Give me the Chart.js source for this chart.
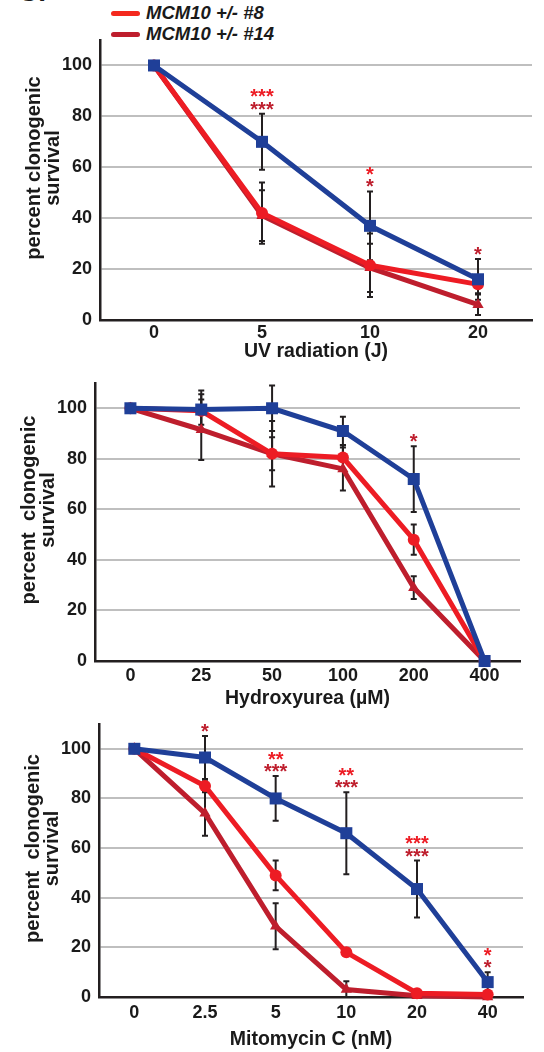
<!DOCTYPE html>
<html>
<head>
<meta charset="utf-8">
<script src="https://cdn.jsdelivr.net/npm/chart.js@4.4.1/dist/chart.umd.min.js"></script>
<style>
  html, body { margin: 0; padding: 0; background: #fff; }
  body { width: 544px; height: 1052px; position: relative; overflow: hidden; font-family: 'Liberation Sans', Arial, sans-serif; }
  canvas { position: absolute; left: 0; }
  .letter { position: absolute; left: 18px; top: -22px; font: bold 28px 'Liberation Sans', Arial, sans-serif; line-height: 28px; color: #1a1a1a; }
  .key { position: absolute; left: 111px; height: 22px; display: flex; align-items: center; font: italic bold 18.5px 'Liberation Sans', Arial, sans-serif; color: #1a1a1a; white-space: pre; }
  .key span { display: inline-block; width: 29px; height: 5px; border-radius: 3px; margin-right: 6px; }
</style>
</head>
<body>
<div class="letter">C.</div>
<div class="key" style="top:2px"><span style="background:#f4291e"></span>MCM10 +/- #8</div>
<div class="key" style="top:23px"><span style="background:#be1e2d"></span>MCM10 +/- #14</div>
<canvas id="uv" width="544" height="370" style="top:0"></canvas>
<canvas id="hu" width="544" height="355" style="top:360px"></canvas>
<canvas id="mmc" width="544" height="352" style="top:700px"></canvas>
<script>
/* clonogenic survival, three treatments */
const BLUE = '#1f3f98', RED = '#ed1c24', DARK = '#be1e2d';
const GRID = '#bfbfbf', AXIS = '#231f20', INK = '#1a1a1a';
const FONT = "'Liberation Sans', Arial, sans-serif";

// UV radiation (J)
const uvDoses = ['0', '5', '10', '20'];
const uvCtrl = [100, 70, 37, 16];
const uvCtrlErr = [0, 11, 13.5, 8];
const uv8 = [100, 42, 21.5, 14];
const uv8Err = [0, 12, 12.5, 3.5];
const uv14 = [100, 41, 20.5, 6];
const uv14Err = [0, 10, 9.5, 4];
const uvStars8 = ['', '***', '*', ''];
const uvStars14 = ['', '***', '*', '*'];

// Hydroxyurea (uM)
const huDoses = ['0', '25', '50', '100', '200', '400'];
const huCtrl = [100, 99.5, 100, 91, 72, 0];
const huCtrlErr = [0, 6, 9, 5.6, 13, 0];
const hu8 = [100, 99, 82, 80.5, 48, 0];
const hu8Err = [0, 8, 13, 5, 6, 0];
const hu14 = [100, 91.5, 82, 76, 29, 0];
const hu14Err = [0, 12, 6.5, 8.5, 4.5, 0];
const huStars8 = ['', '', '', '', '', ''];
const huStars14 = ['', '', '', '', '*', ''];

// Mitomycin C (nM)
const mmcDoses = ['0', '2.5', '5', '10', '20', '40'];
const mmcCtrl = [100, 96.5, 80, 66, 43.5, 6];
const mmcCtrlErr = [0, 8.7, 9, 16.5, 11.5, 4];
const mmc8 = [100, 85, 49, 18, 1.5, 1];
const mmc8Err = [0, 2.5, 6, 1.5, 0.5, 0.5];
const mmc14 = [100, 74, 28.5, 3, 0.5, 0];
const mmc14Err = [0, 9, 9.3, 3.3, 0, 0];
const mmcStars8 = ['', '', '**', '**', '***', '*'];
const mmcStars14 = ['', '*', '***', '***', '***', '*'];

const errorBars = {
  id: 'errorBars',
  beforeDatasetsDraw(chart) {
    const { ctx, scales: { x, y } } = chart;
    ctx.save();
    ctx.strokeStyle = AXIS;
    ctx.lineWidth = 2;
    chart.data.datasets.forEach(ds => {
      ds.errors.forEach((e, i) => {
        if (!e) return;
        const px = x.getPixelForValue(i);
        const top = y.getPixelForValue(ds.data[i] + e);
        const bot = y.getPixelForValue(Math.max(ds.data[i] - e, 0));
        ctx.beginPath();
        ctx.moveTo(px, top); ctx.lineTo(px, bot);
        ctx.moveTo(px - 3, top); ctx.lineTo(px + 3, top);
        ctx.moveTo(px - 3, bot); ctx.lineTo(px + 3, bot);
        ctx.stroke();
      });
    });
    ctx.restore();
  }
};

function starMarks(a, b) {
  return {
    id: 'stars',
    afterDatasetsDraw(chart) {
      const { ctx, scales: { x, y } } = chart;
      ctx.save();
      ctx.font = 'bold 20px ' + FONT;
      ctx.textAlign = 'center';
      ctx.textBaseline = 'alphabetic';
      chart.data.labels.forEach((_, i) => {
        if (!a[i] && !b[i]) return;
        const hi = Math.max(...chart.data.datasets.map(ds => ds.data[i] + (ds.errors[i] || 0)));
        const px = x.getPixelForValue(i);
        let cy = y.getPixelForValue(hi) - 9;
        if (b[i]) { ctx.fillStyle = DARK; ctx.fillText(b[i], px, cy + 11); cy -= 12.5; }
        if (a[i]) { ctx.fillStyle = RED; ctx.fillText(a[i], px, cy + 11); }
      });
      ctx.restore();
    }
  };
}

function yTitle(lines) {
  return {
    id: 'yTitle',
    afterDraw(chart) {
      const { ctx, chartArea } = chart;
      const cy = (chartArea.top + chartArea.bottom) / 2 - 12;
      ctx.save();
      ctx.translate(chartArea.left - 66, cy);
      ctx.rotate(-Math.PI / 2);
      ctx.font = 'bold 20px ' + FONT;
      ctx.fillStyle = INK;
      ctx.textAlign = 'center';
      ctx.textBaseline = 'middle';
      lines.forEach((t, i) => ctx.fillText(t, 0, i * 19.5));
      ctx.restore();
    }
  };
}

function panel(id, p) {
  const sets = [
    { label: 'MCM10 +/+', data: p.ctrl, errors: p.ctrlErr, borderColor: BLUE, backgroundColor: BLUE, pointStyle: 'rect', pointRadius: 8.5 },
    { label: 'MCM10 +/- #8', data: p.h8, errors: p.h8Err, borderColor: RED, backgroundColor: RED, pointStyle: 'circle', pointRadius: 6 },
    { label: 'MCM10 +/- #14', data: p.h14, errors: p.h14Err, borderColor: DARK, backgroundColor: DARK, pointStyle: 'triangle', pointRadius: 6.5 }
  ].map(ds => Object.assign(ds, { borderWidth: 5, pointBorderWidth: 0, tension: 0, clip: false }));

  return new Chart(document.getElementById(id), {
    type: 'line',
    data: { labels: p.labels, datasets: sets },
    options: {
      responsive: false,
      animation: false,
      devicePixelRatio: 1,
      events: [],
      layout: { padding: { top: p.top, right: p.right, left: 0, bottom: 0 } },
      plugins: { legend: { display: false }, tooltip: { enabled: false } },
      scales: {
        x: {
          type: 'category',
          offset: true,
          grid: { display: false, drawTicks: false },
          border: { display: true, color: AXIS, width: 2.5 },
          ticks: { color: INK, font: { family: FONT, size: 18, weight: 'bold' }, padding: p.tickPad, maxRotation: 0, autoSkip: false },
          title: { display: true, text: p.xTitle, color: INK, font: { family: FONT, size: 19.5, weight: 'bold' }, padding: { top: 0, bottom: p.titlePad } },
          afterFit: s => { s.height = p.axisH; }
        },
        y: {
          min: 0,
          max: 110,
          afterBuildTicks: s => { s.ticks = s.ticks.filter(t => t.value % 20 === 0); },
          grid: { color: c => (c.tick && c.tick.value === 0 ? 'rgba(0,0,0,0)' : GRID), lineWidth: 2, drawTicks: false },
          border: { display: true, color: AXIS, width: 2.5 },
          ticks: { stepSize: 20, color: INK, font: { family: FONT, size: 18, weight: 'bold' }, padding: 8 },
          afterFit: s => { s.width = p.axisW; }
        }
      }
    },
    plugins: [errorBars, starMarks(p.stars8, p.stars14), yTitle(p.yLines)]
  });
}

panel('uv', {
  labels: uvDoses, ctrl: uvCtrl, ctrlErr: uvCtrlErr, h8: uv8, h8Err: uv8Err, h14: uv14, h14Err: uv14Err,
  stars8: uvStars8, stars14: uvStars14, xTitle: 'UV radiation (J)', yLines: ['percent clonogenic', 'survival'],
  top: 40, right: 12, axisW: 100, axisH: 50, tickPad: 2, titlePad: 6.3
});
panel('hu', {
  labels: huDoses, ctrl: huCtrl, ctrlErr: huCtrlErr, h8: hu8, h8Err: hu8Err, h14: hu14, h14Err: hu14Err,
  stars8: huStars8, stars14: huStars14, xTitle: 'Hydroxyurea (\u00b5M)', yLines: ['percent  clonogenic', 'survival'],
  top: 23, right: 24, axisW: 95, axisH: 54, tickPad: 4, titlePad: 4.3
});
panel('mmc', {
  labels: mmcDoses, ctrl: mmcCtrl, ctrlErr: mmcCtrlErr, h8: mmc8, h8Err: mmc8Err, h14: mmc14, h14Err: mmc14Err,
  stars8: mmcStars8, stars14: mmcStars14, xTitle: 'Mitomycin C (nM)', yLines: ['percent  clonogenic', 'survival'],
  top: 24, right: 21, axisW: 99, axisH: 55, tickPad: 5, titlePad: 0.3
});
</script>
</body>
</html>
